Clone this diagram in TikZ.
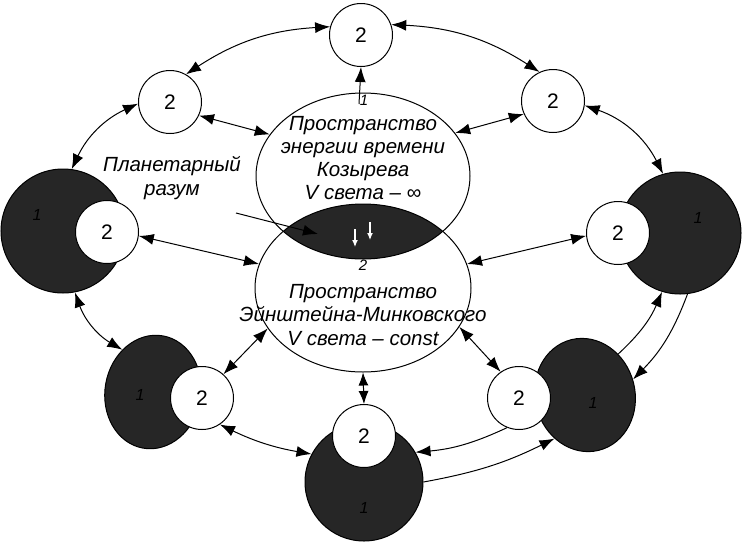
\documentclass[tikz,border=0pt]{standalone}
\usepackage{fontspec}
\setsansfont{Liberation Sans}
\usetikzlibrary{arrows.meta,shapes.geometric}
\definecolor{bodygrey}{gray}{0.15}

\begin{document}
\begin{tikzpicture}[x=1pt,y=1pt,>={Latex[length=15pt,width=11pt]},line width=1pt,font=\sffamily,
  ring/.style={circle,draw,fill=white,minimum size=63pt,inner sep=0pt,font=\sffamily\fontsize{21}{21}\selectfont},
  blob/.style={draw,fill=bodygrey,inner sep=0pt},
  space/.style={ellipse,draw,inner sep=0pt},
  spacetext/.style={align=center,font=\sffamily\itshape\fontsize{20.5}{23.3}\selectfont},
  onefig/.style={text=black,font=\sffamily\itshape\fontsize{16}{16}\selectfont},
  tiny/.style={font=\sffamily\itshape\fontsize{15}{15}\selectfont},
  link/.style={<->}]
\useasboundingbox (0,0) rectangle (744,-544);
% dark bodies
\node[blob,circle,minimum size=124pt] (d1l) at (63,-231) {};
\node[blob,circle,minimum size=122pt] (d1r) at (680,-233) {};
\node[blob,ellipse,minimum width=96pt,minimum height=114pt,rotate=-10] (d1ll) at (153,-392) {};
\node[blob,ellipse,minimum width=100pt,minimum height=114pt,rotate=14] (d1lr) at (585,-395) {};
\node[blob,circle,minimum size=118pt] (d1b) at (364,-482) {};
\node[onefig] (n1l) at (37,-215) {1};
\node[onefig] (n1r) at (698,-218) {1};
\node[onefig] (n1ll) at (140,-395) {1};
\node[onefig] (n1lr) at (593,-403) {1};
\node[onefig] (n1b) at (364,-508) {1};
% the two spaces and their common lens
\begin{scope}
\clip (363,-176) ellipse [x radius=107,y radius=83];
\fill[bodygrey] (363,-288) ellipse [x radius=108,y radius=84];
\end{scope}
\node[space,minimum width=214pt,minimum height=166pt] (kozyrev) at (363,-176) {};
\node[space,minimum width=216pt,minimum height=168pt] (minkowski) at (363,-288) {};
% circles 2
\node[ring] (c2top) at (361,-35) {2};
\node[ring] (c2ul) at (170,-102) {2};
\node[ring] (c2ur) at (553,-101) {2};
\node[ring] (c2l) at (107,-232) {2};
\node[ring] (c2r) at (618,-233) {2};
\node[ring] (c2ll) at (202,-398) {2};
\node[ring] (c2lr) at (519,-398) {2};
\node[ring] (c2b) at (364,-436) {2};
% texts
\node[spacetext] (kozyrevtext) at (363,-158) {Пространство\\энергии времени\\Козырева\\V света – ∞};
\node[spacetext] (minkowskitext) at (363,-315) {Пространство\\Эйнштейна-Минковского\\V света – const};
\node[spacetext] (planet) at (172,-178) {Планетарный\\разум};
\node[tiny] (k1) at (364,-100) {1};
\node[tiny] (m2) at (363,-265) {2};
% outer ring, clockwise
\draw[link] (d1l.82) to[bend left=20] (c2ul.183);
\draw[link] (c2ul.60) to[bend left=15] (c2top.165);
\draw[link] (c2top.19) to[bend left=15] (c2ur.115);
\draw[link] (c2ur.352) to[bend left=22] (d1r.106);
\draw[->] (d1lr.37) to[bend right=12] (d1r.253);
\draw[->] (d1r.277) to[bend left=12] (d1lr.4);
\draw[->] (c2lr.248) to[bend left=10] (d1b.30);
\draw[->] (d1b.0) to[bend right=8] (d1lr.221);
\draw[link] (d1b.152) to[bend left=8] (c2ll.304);
\draw[link] (d1ll.136) to[bend left=20] (d1l.281);
% spokes
\draw[link] (c2ul.335) -- (kozyrev.156);
\draw[link] (c2ur.204) -- (kozyrev.25);
\draw[link] (c2l.353) -- (minkowski.167);
\draw[link] (c2r.185) -- (minkowski.13);
\draw[link] (c2ll.48) -- (minkowski.203);
\draw[link] (c2lr.125) -- (minkowski.338);
\draw[{Latex[length=13pt,width=10pt]}-{Latex[length=13pt,width=10pt]}] (minkowski.south) -- (c2b.north);
\coordinate (k1foot) at (359,-104);
\draw[->] (k1foot) -- (c2top.south);
% pointer of the planetary mind
\coordinate (p0) at (236,-213);
\coordinate (p1) at (318,-234);
\draw[->] (p0) -- (p1);
% white arrows in the lens
\coordinate (w1a) at (355,-229);
\coordinate (w1b) at (355,-247);
\coordinate (w2a) at (370,-222);
\coordinate (w2b) at (370,-240);
\draw[white,line width=1.2pt,-{Latex[length=7pt,width=6pt]}] (w1a) -- (w1b);
\draw[white,line width=1.2pt,-{Latex[length=7pt,width=6pt]}] (w2a) -- (w2b);
\end{tikzpicture}
\end{document}
